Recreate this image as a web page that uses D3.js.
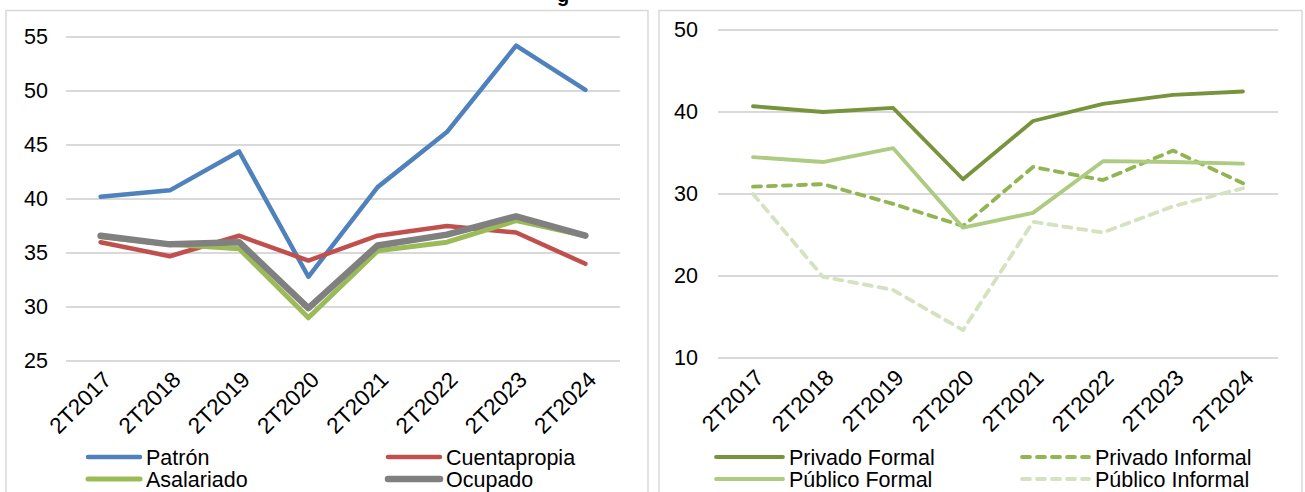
<!DOCTYPE html>
<html><head><meta charset="utf-8">
<script src="https://cdn.jsdelivr.net/npm/d3@7"></script>
<style>
html,body{margin:0;padding:0;background:#fff;}
svg{display:block;font-family:"Liberation Sans",Arial,sans-serif;}
</style></head>
<body>
<svg id="chart" width="1305" height="492"></svg>
<script>
const categories = ["2T2017","2T2018","2T2019","2T2020","2T2021","2T2022","2T2023","2T2024"];

// Left panel
const patron       = [40.2, 40.8, 44.4, 32.8, 41.1, 46.2, 54.2, 50.1];
const cuentapropia = [36.0, 34.7, 36.6, 34.3, 36.6, 37.5, 36.9, 34.0];
const asalariado   = [36.5, 35.8, 35.4, 29.0, 35.2, 36.0, 38.0, 36.6];
const ocupado      = [36.6, 35.8, 36.0, 29.9, 35.7, 36.7, 38.4, 36.6];
const leftTicks = [25, 30, 35, 40, 45, 50, 55];

// Right panel
const privadoFormal   = [40.7, 40.0, 40.5, 31.8, 38.9, 41.0, 42.1, 42.5];
const privadoInformal = [30.9, 31.2, 28.8, 26.1, 33.3, 31.7, 35.3, 31.3];
const publicoFormal   = [34.5, 33.9, 35.6, 25.9, 27.7, 34.0, 33.9, 33.7];
const publicoInformal = [30.0, 19.9, 18.3, 13.4, 26.6, 25.3, 28.5, 30.7];
const rightTicks = [10, 20, 30, 40, 50];

const svg = d3.select("#chart");

// partial title (cut off at top in the original)
svg.append("text").attr("x", 557).attr("y", 2).attr("font-size", 20).attr("font-weight", "bold")
  .attr("fill", "#000").text("g");

// Panel frames
svg.append("rect").attr("x", 6).attr("y", 10.5).attr("width", 642).attr("height", 500)
  .attr("fill", "none").attr("stroke", "#D9D9D9").attr("stroke-width", 1.5);
svg.append("rect").attr("x", 659).attr("y", 10.5).attr("width", 643).attr("height", 500)
  .attr("fill", "none").attr("stroke", "#D9D9D9").attr("stroke-width", 1.5);

function panel(cfg) {
  const g = svg.append("g");
  const x = d3.scaleBand().domain(categories).range([cfg.x0, cfg.x1]);
  const y = d3.scaleLinear().domain(cfg.domain).range([cfg.yBottom, cfg.yTop]);
  // grid
  g.append("g").selectAll("line").data(cfg.ticks).join("line")
    .attr("x1", cfg.x0).attr("x2", cfg.x1)
    .attr("y1", d => y(d)).attr("y2", d => y(d))
    .attr("stroke", "#D9D9D9").attr("stroke-width", 2);
  // y labels
  const yAxis = d3.axisLeft(y).tickValues(cfg.ticks).tickSize(0).tickPadding(0);
  const ya = g.append("g").attr("transform", `translate(${cfg.yLabelX},0)`).call(yAxis);
  ya.select(".domain").remove();
  ya.selectAll("text").attr("font-size", 21.5).attr("fill", "#000")
    .attr("font-family", "Liberation Sans, Arial, sans-serif");
  // x labels
  const xAxis = d3.axisBottom(x).tickSize(0).tickPadding(0);
  const xa = g.append("g").attr("transform", `translate(0,${cfg.xLabelY})`).call(xAxis);
  xa.select(".domain").remove();
  xa.selectAll("text")
    .attr("font-size", 22.5).attr("fill", "#000")
    .attr("font-family", "Liberation Sans, Arial, sans-serif")
    .attr("text-anchor", "end")
    .attr("dy", "0.7em")
    .attr("transform", "translate(1,2) rotate(-45)");
  // lines
  const line = d3.line().x((d, i) => x(categories[i]) + x.bandwidth() / 2).y(d => y(d));
  cfg.series.forEach(s => {
    g.append("path").datum(s.values).attr("d", line)
      .attr("fill", "none").attr("stroke", s.color).attr("stroke-width", s.width)
      .attr("stroke-linejoin", "round").attr("stroke-linecap", "round")
      .attr("stroke-dasharray", s.dash || null);
  });
  // legend
  cfg.series.forEach((s, i) => {
    const lx = cfg.legendX[i % 2], ly = cfg.legendY[Math.floor(i / 2)];
    g.append("line").attr("x1", lx).attr("x2", lx + cfg.legendLen).attr("y1", ly).attr("y2", ly)
      .attr("stroke", s.color).attr("stroke-width", s.legendWidth || s.width)
      .attr("stroke-linecap", "round").attr("stroke-dasharray", s.dash || null);
    g.append("text").attr("x", lx + cfg.legendLen + 6).attr("y", ly).attr("dy", "0.35em")
      .attr("font-size", 21.5).attr("fill", "#000").text(s.name);
  });
}

panel({
  x0: 66, x1: 620, yTop: 37, yBottom: 361, domain: [25, 55], ticks: leftTicks,
  yLabelX: 48, xLabelY: 368,
  legendX: [88, 388], legendY: [457, 479], legendLen: 52,
  series: [
    {name: "Patrón", values: patron, color: "#4F81BD", width: 4.5},
    {name: "Cuentapropia", values: cuentapropia, color: "#C0504D", width: 4.5},
    {name: "Asalariado", values: asalariado, color: "#9BBB59", width: 5},
    {name: "Ocupado", values: ocupado, color: "#808080", width: 6.5}
  ]
});

panel({
  x0: 718, x1: 1278, yTop: 30, yBottom: 358, domain: [10, 50], ticks: rightTicks,
  yLabelX: 698, xLabelY: 366,
  legendX: [716, 1022], legendY: [457, 479], legendLen: 67,
  series: [
    {name: "Privado Formal", values: privadoFormal, color: "#77933C", width: 3.8},
    {name: "Privado Informal", values: privadoInformal, color: "#93B452", width: 3.8, dash: "8,7"},
    {name: "Público Formal", values: publicoFormal, color: "#AECB82", width: 3.8},
    {name: "Público Informal", values: publicoInformal, color: "#D4E2BF", width: 3.8, dash: "8,7"}
  ]
});
</script>
</body></html>
